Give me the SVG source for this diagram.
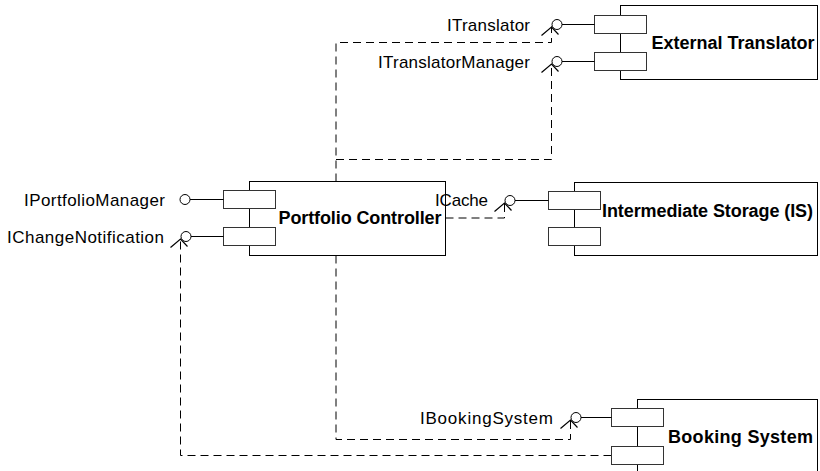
<svg xmlns="http://www.w3.org/2000/svg" width="820" height="471" viewBox="0 0 820 471">
<style>
.box{fill:#fff;stroke:#000;stroke-width:1}
.port{fill:#fff;stroke:#333;stroke-width:1}
.lbl{font-family:"Liberation Sans",Arial,sans-serif;font-size:17px;fill:#000}
.ttl{font-family:"Liberation Sans",Arial,sans-serif;font-size:18px;font-weight:bold;fill:#000}
.dep{fill:none;stroke:#000;stroke-width:1;stroke-dasharray:8 5}
.sol{fill:none;stroke:#000;stroke-width:1}
.lol{fill:#fff;stroke:#000;stroke-width:1}
</style>
<defs>
<polyline id="sock" points="-15.5,11 -5.5,2.5 1.5,10" fill="none" stroke="#000" stroke-width="1.2"/>
</defs>
<rect width="820" height="471" fill="#fff"/>
<g id="connectors">
<path class="dep" d="M336,181.5 V42.5 H551.5 V26.5"/>
<path class="dep" d="M336,159.5 H551.5 V64.5"/>
<path class="dep" d="M445.5,218 H504.5 V202.5"/>
<path class="dep" d="M336,255.5 V439.5 H570.5 V420.5"/>
<path class="dep" d="M611.5,455.5 H180.5 V239.5"/>
</g>
<g id="external-translator">
<rect class="box" x="620.5" y="5.5" width="197" height="74"/>
<rect class="port" x="594.5" y="15.5" width="52" height="18"/>
<rect class="port" x="594.5" y="52.5" width="52" height="18"/>
<text class="ttl" x="651.5" y="49" textLength="163" lengthAdjust="spacing">External Translator</text>
</g>
<g id="itranslator">
<line class="sol" x1="562" y1="24.5" x2="594.5" y2="24.5"/>
<circle class="lol" cx="557" cy="24.5" r="5"/>
<use href="#sock" x="557" y="24.5"/>
<text class="lbl" x="447" y="31" textLength="83" lengthAdjust="spacing">ITranslator</text>
</g>
<g id="itranslatormanager">
<line class="sol" x1="562" y1="61.5" x2="594.5" y2="61.5"/>
<circle class="lol" cx="557" cy="61.5" r="5"/>
<use href="#sock" x="557" y="61.5"/>
<text class="lbl" x="378" y="68" textLength="152" lengthAdjust="spacing">ITranslatorManager</text>
</g>
<g id="portfolio-controller">
<rect class="box" x="249.5" y="181.5" width="196" height="74"/>
<rect class="port" x="223.5" y="190.5" width="52" height="18"/>
<rect class="port" x="223.5" y="227.5" width="52" height="18"/>
<text class="ttl" x="278.5" y="224" textLength="163" lengthAdjust="spacing">Portfolio Controller</text>
</g>
<g id="iportfoliomanager">
<line class="sol" x1="190" y1="199.5" x2="223.5" y2="199.5"/>
<circle class="lol" cx="185" cy="199.5" r="5"/>
<text class="lbl" x="24" y="206" textLength="141" lengthAdjust="spacing">IPortfolioManager</text>
</g>
<g id="ichangenotification">
<line class="sol" x1="191" y1="236.5" x2="223.5" y2="236.5"/>
<circle class="lol" cx="186" cy="236.5" r="5"/>
<use href="#sock" x="186" y="236.5"/>
<text class="lbl" x="7" y="243" textLength="157" lengthAdjust="spacing">IChangeNotification</text>
</g>
<g id="intermediate-storage">
<rect class="box" x="574.5" y="182.5" width="243" height="73"/>
<rect class="port" x="548.5" y="191.5" width="52" height="18"/>
<rect class="port" x="548.5" y="227.5" width="52" height="18"/>
<text class="ttl" x="602" y="217" textLength="211" lengthAdjust="spacing">Intermediate Storage (IS)</text>
</g>
<g id="icache">
<line class="sol" x1="515" y1="200.5" x2="548.5" y2="200.5"/>
<circle class="lol" cx="510" cy="200.5" r="5"/>
<use href="#sock" x="510" y="200.5"/>
<text class="lbl" x="435" y="206" textLength="53" lengthAdjust="spacing">ICache</text>
</g>
<g id="booking-system">
<rect class="box" x="637.5" y="399.5" width="180" height="80"/>
<rect class="port" x="611.5" y="408.5" width="52" height="18"/>
<rect class="port" x="611.5" y="446.5" width="52" height="18"/>
<text class="ttl" x="668" y="443" textLength="145" lengthAdjust="spacing">Booking System</text>
</g>
<g id="ibookingsystem">
<line class="sol" x1="581" y1="417.5" x2="611.5" y2="417.5"/>
<circle class="lol" cx="576" cy="417.5" r="5"/>
<use href="#sock" x="576" y="417.5"/>
<text class="lbl" x="420" y="424" textLength="133" lengthAdjust="spacing">IBookingSystem</text>
</g>
</svg>
